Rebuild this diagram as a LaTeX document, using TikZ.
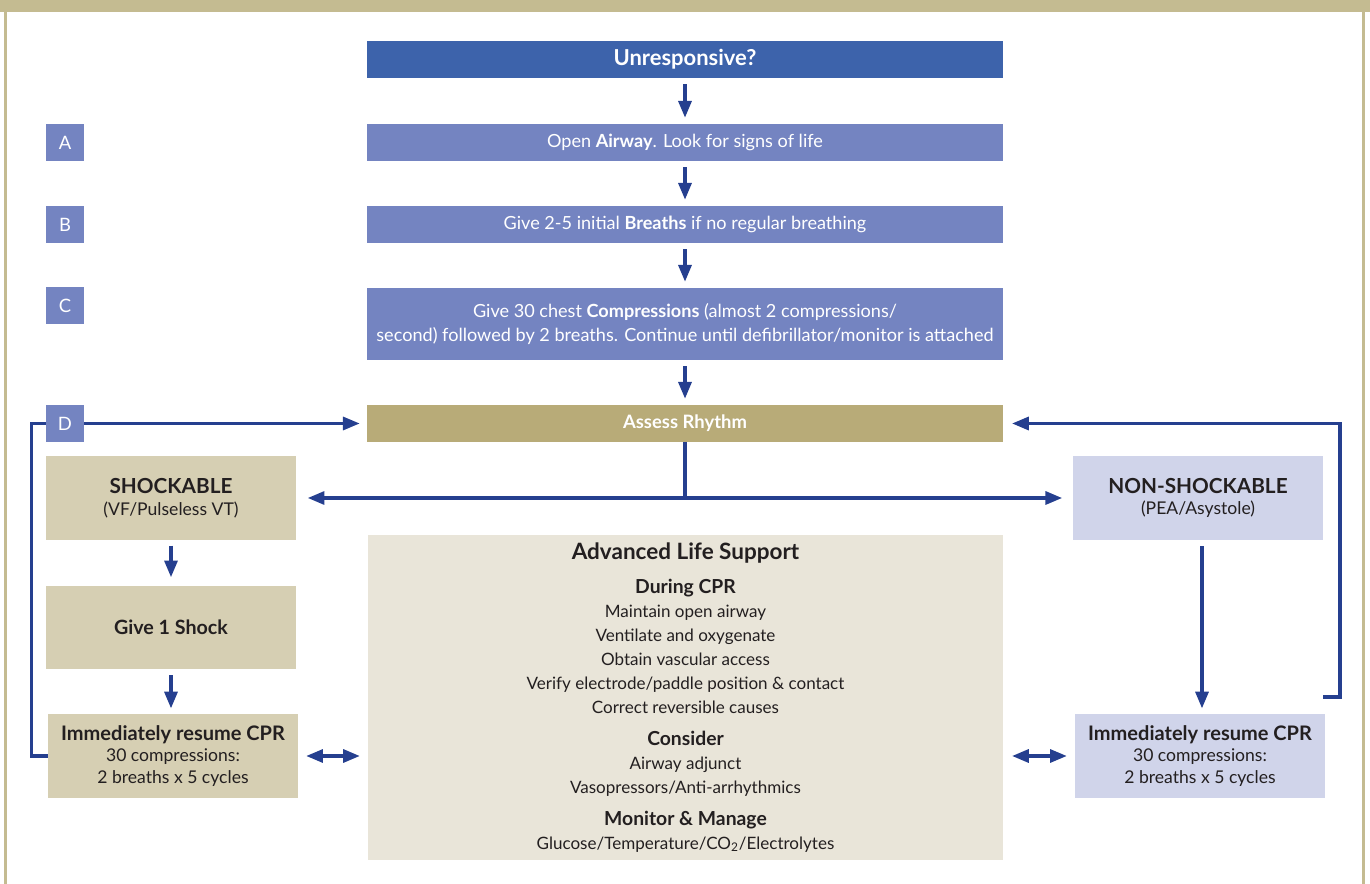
\documentclass[tikz,border=0pt]{standalone}
\usepackage{fontspec}
\setmainfont{Lato}
\usetikzlibrary{arrows.meta,positioning}
\definecolor{framecol}{HTML}{C4BB91}
\definecolor{headblue}{HTML}{3D63AB}
\definecolor{stepblue}{HTML}{7484C1}
\definecolor{assesscol}{HTML}{B8AB78}
\definecolor{shockcol}{HTML}{D6CFB3}
\definecolor{nonshockcol}{HTML}{D0D4EA}
\definecolor{alscol}{HTML}{E9E5D9}
\definecolor{arrowblue}{HTML}{253F8F}
\definecolor{inkcol}{HTML}{231F20}

\begin{document}
\begin{tikzpicture}[x=0.02cm,y=-0.02cm,
    every node/.style={font=\fontsize{10.3}{13.7}\selectfont,text centered,align=center,inner sep=0pt},
    mainbox/.style={fill=stepblue,text=white,minimum width=12.72cm,minimum height=0.74cm},
    letterbox/.style={fill=stepblue,text=white,minimum width=0.76cm,minimum height=0.74cm,font=\fontsize{10.5}{12}\selectfont},
    sidebox/.style={text=inkcol,minimum width=5cm,minimum height=1.68cm,font=\fontsize{10}{12.3}\selectfont},
    flow/.style={-{Triangle[length=9.5pt,width=7.4pt]},line width=1.8pt,draw=arrowblue},
    twoway/.style={{Triangle[length=9.5pt,width=7.4pt]}-{Triangle[length=9.5pt,width=7.4pt]},line width=1.8pt,draw=arrowblue},
    plain/.style={line width=1.8pt,draw=arrowblue}
    ]
    \useasboundingbox (0,0) rectangle (1370,884);
    \fill[framecol] (0,0) rectangle (1370,12);
    \fill[framecol] (4,12) rectangle (7,884);
    \fill[framecol] (1362,12) rectangle (1365,884);

    \node[mainbox,fill=headblue,font=\fontsize{12.5}{14}\selectfont\bfseries] (unresp) at (685,59.5) {Unresponsive?};
    \node[mainbox] (airway) at (685,142.5) {Open \textbf{Airway}. Look for signs of life};
    \node[mainbox] (breaths) at (685,224.5) {Give 2-5 initial \textbf{Breaths} if no regular breathing};
    \node[mainbox,minimum height=1.44cm] (compr) at (685,324) {Give 30 chest \textbf{Compressions} (almost 2 compressions/\\second) followed by 2 breaths. Continue until defibrillator/monitor is attached};
    \node[mainbox,fill=assesscol,font=\fontsize{10.5}{12}\selectfont\bfseries] (assess) at (685,423.5) {Assess Rhythm};

    \node[sidebox,fill=shockcol] (shock) at (171,498) {{\fontsize{11.8}{12.3}\selectfont\bfseries SHOCKABLE}\\(VF/Pulseless VT)};
    \node[sidebox,fill=shockcol,font=\fontsize{11.2}{12}\selectfont\bfseries] (giveshock) at (171,627.5) {Give 1 Shock};
    \node[sidebox,fill=shockcol] (resumel) at (173,756) {{\fontsize{11.4}{12.3}\selectfont\bfseries Immediately resume CPR}\\30 compressions:\\2 breaths x 5 cycles};
    \node[sidebox,fill=nonshockcol] (nonshock) at (1198,498) {{\fontsize{11.8}{12.3}\selectfont\bfseries NON-SHOCKABLE}\\(PEA/Asystole)};
    \node[sidebox,fill=nonshockcol] (resumer) at (1200,756) {{\fontsize{11.4}{12.3}\selectfont\bfseries Immediately resume CPR}\\30 compressions:\\2 breaths x 5 cycles};

    \node[fill=alscol,text=inkcol,minimum width=12.7cm,minimum height=6.5cm,font=\fontsize{9.7}{13.7}\selectfont] (als) at (685.5,697.5) {{\fontsize{12.8}{13.7}\selectfont\bfseries Advanced Life Support}\\[5.7pt]
      {\fontsize{11}{13.7}\selectfont\bfseries During CPR}\\
      Maintain open airway\\
      Ventilate and oxygenate\\
      Obtain vascular access\\
      Verify electrode/paddle position \& contact\\
      Correct reversible causes\\[4pt]
      {\fontsize{11}{13.7}\selectfont\bfseries Consider}\\
      Airway adjunct\\
      Vasopressors/Anti-arrhythmics\\[4.5pt]
      {\fontsize{11}{13.7}\selectfont\bfseries Monitor \& Manage}\\
      Glucose/Temperature/CO\textsubscript{2}/Electrolytes};

    \draw[flow,shorten <=3.4pt,shorten >=3.4pt] (unresp) -- (airway);
    \draw[flow,shorten <=3.4pt,shorten >=3.4pt] (airway) -- (breaths);
    \draw[flow,shorten <=3.4pt,shorten >=3.4pt] (breaths) -- (compr);
    \draw[flow,shorten <=3.4pt,shorten >=3.4pt] (compr) -- (assess);
    \draw[plain] (assess.south) -- (assess.south |- shock.east);
    \draw[twoway,shorten <=6.5pt,shorten >=6pt] (shock.east) -- (nonshock.west);
    \draw[flow,shorten <=3pt,shorten >=4.5pt] (shock) -- (giveshock);
    \draw[flow,shorten <=3pt,shorten >=3pt] (giveshock) -- (resumel.north -| giveshock.south);
    \draw[flow,shorten <=3.4pt,shorten >=3pt] (nonshock.south -| 1202,0) -- (resumer.north -| 1202,0);
    \draw[twoway,shorten <=4.5pt,shorten >=4.5pt] (resumel.east) -- (als.west |- resumel.east);
    \draw[twoway,shorten <=5pt,shorten >=4.5pt] (als.east |- resumer.west) -- (resumer.west);
    \draw[flow,shorten >=4pt] (resumel.west) -- ++(-16,0) |- (assess.west);
    \coordinate (loopr) at (1323,697);
    \draw[flow,shorten >=5pt] (loopr) -- ++(17,0) |- (assess.east);

    \node[letterbox] (la) at (65,142.5) {A};
    \node[letterbox] (lb) at (65,224.5) {B};
    \node[letterbox] (lc) at (65,306) {C};
    \node[letterbox] (ld) at (65,423.5) {D};
  \end{tikzpicture}
\end{document}
